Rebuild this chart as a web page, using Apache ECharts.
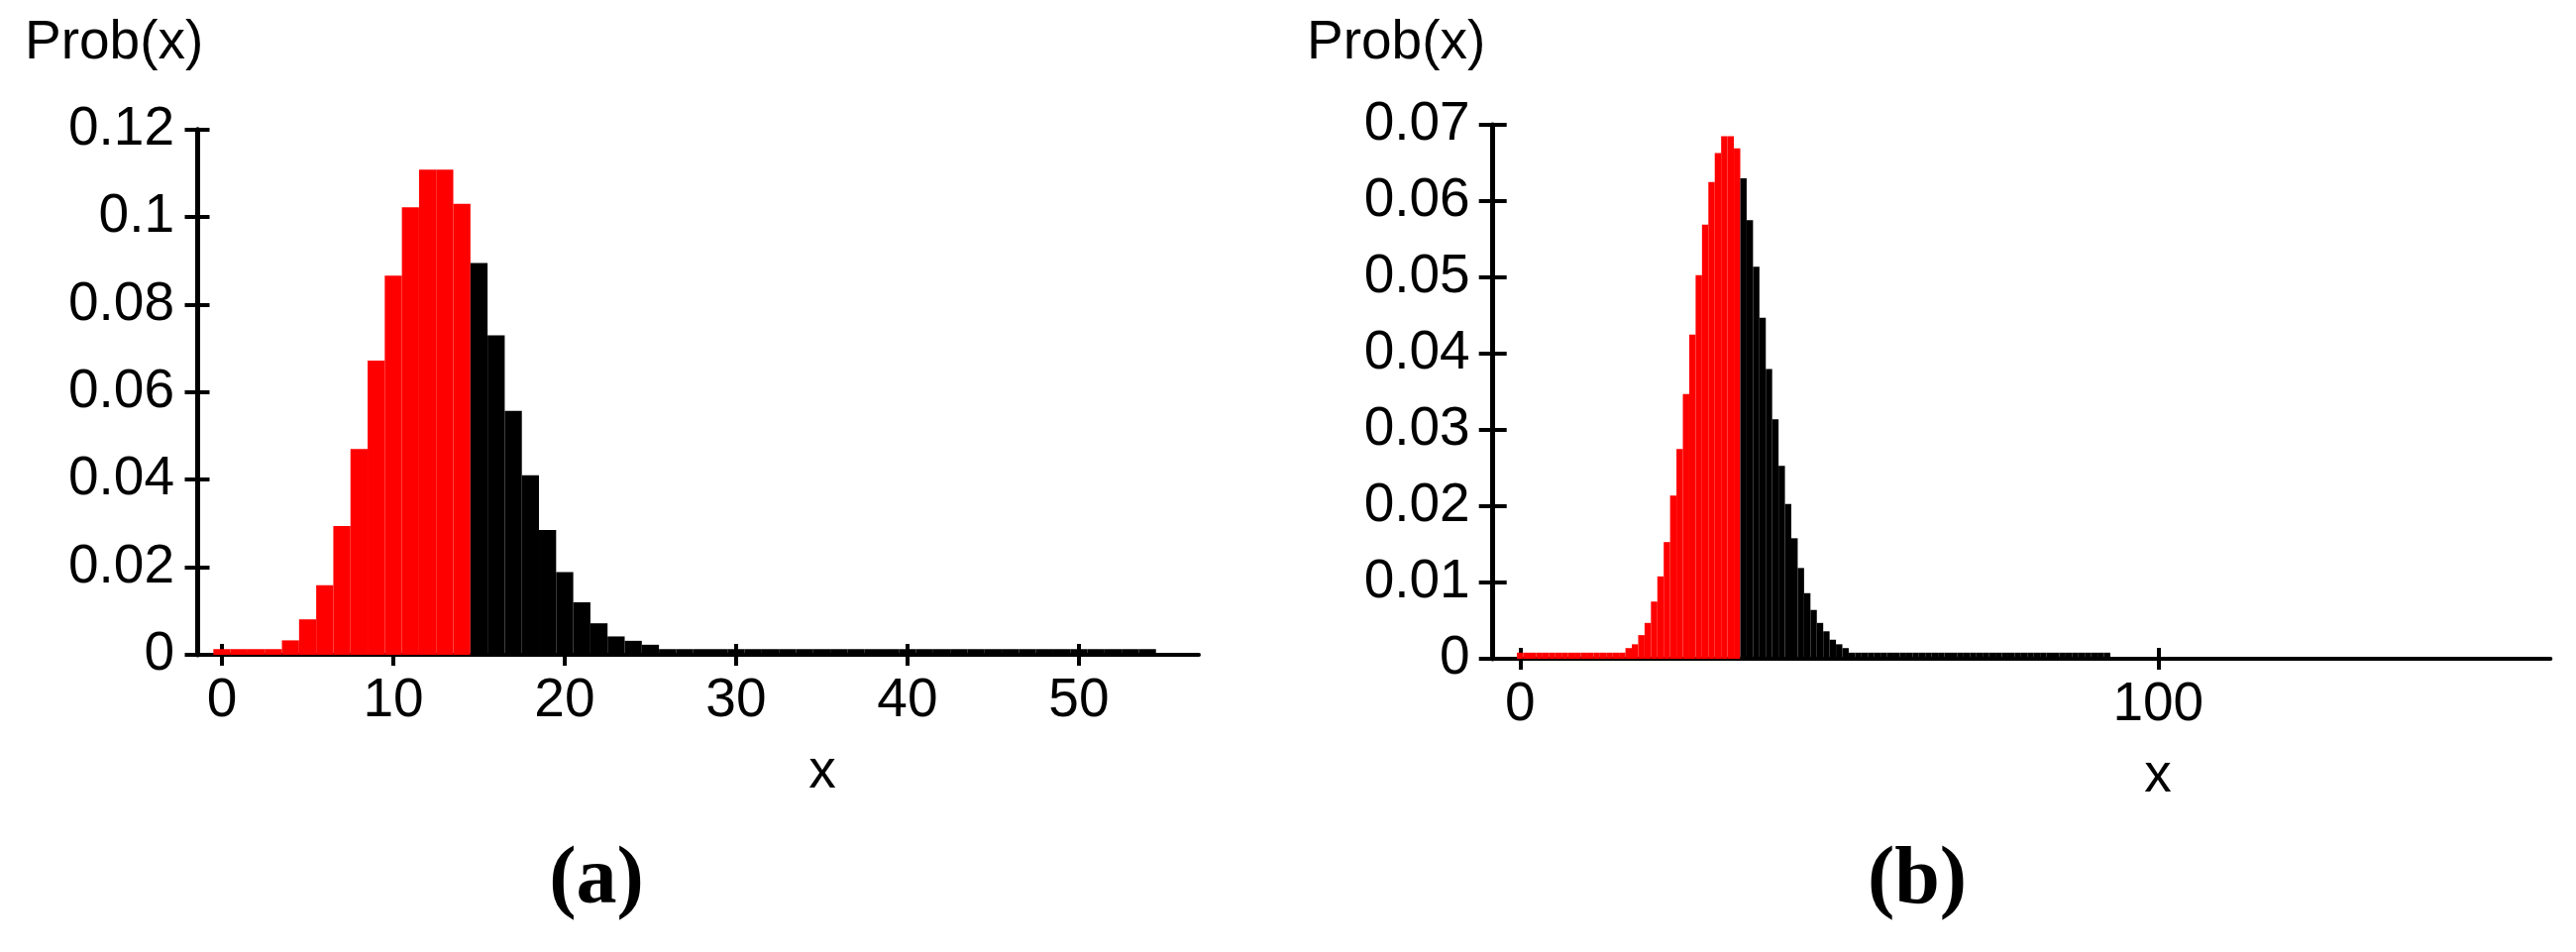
<!DOCTYPE html>
<html>
<head>
<meta charset="utf-8">
<script src="https://cdn.jsdelivr.net/npm/echarts@6/dist/echarts.min.js"></script>
<style>
  html, body { margin: 0; padding: 0; background: #fff; }
  #chart { width: 2600px; height: 961px; }
</style>
</head>
<body>
<div id="chart"></div>
<script>
// panel (a): Prob(x) for x = 0..54, red up to splitA, black after
const probA = [
  0.0013, 0.0013, 0.0013, 0.0013, 0.0033, 0.0081, 0.0159, 0.0294, 0.047, 0.0672,
  0.0866, 0.1022, 0.1108, 0.1108, 0.103,
  0.0895, 0.073, 0.0557, 0.041, 0.0285, 0.0189, 0.012, 0.0072, 0.0042, 0.0032,
  0.0023, 0.0013, 0.0013, 0.0013, 0.0013, 0.0013, 0.0013, 0.0013, 0.0013, 0.0013,
  0.0013, 0.0013, 0.0013, 0.0013, 0.0013, 0.0013, 0.0013, 0.0013, 0.0013, 0.0013,
  0.0013, 0.0013, 0.0013, 0.0013, 0.0013, 0.0013, 0.0013, 0.0013, 0.0013, 0.0013
];
const splitA = 15;
const xTicksA = [0, 10, 20, 30, 40, 50];

// panel (b): Prob(x) for x = 0..92
const probB = [
  0.0008, 0.0008, 0.0008, 0.0008, 0.0008, 0.0008, 0.0008, 0.0008, 0.0008, 0.0008,
  0.0008, 0.0008, 0.0008, 0.0008, 0.0008, 0.0008, 0.0008, 0.0014, 0.0019, 0.0031,
  0.0047, 0.0075, 0.0108, 0.0153, 0.0214, 0.0275, 0.0347, 0.0425, 0.0503, 0.0569,
  0.0625, 0.0663, 0.0685, 0.0685, 0.0669,
  0.063, 0.0575, 0.0514, 0.0447, 0.038, 0.0314, 0.0253, 0.0203, 0.0158, 0.0119,
  0.0086, 0.0064, 0.0047, 0.0036, 0.0025, 0.0019, 0.0014, 0.0008, 0.0008, 0.0008,
  0.0008, 0.0008, 0.0008, 0.0008, 0.0008, 0.0008, 0.0008, 0.0008, 0.0008, 0.0008,
  0.0008, 0.0008, 0.0008, 0.0008, 0.0008, 0.0008, 0.0008, 0.0008, 0.0008, 0.0008,
  0.0008, 0.0008, 0.0008, 0.0008, 0.0008, 0.0008, 0.0008, 0.0008, 0.0008, 0.0008,
  0.0008, 0.0008, 0.0008, 0.0008, 0.0008, 0.0008, 0.0008, 0.0008
];
const splitB = 35;
const xTicksB = [0, 100];

const FONT = "'Liberation Sans', Arial, sans-serif";
const INK = "#000000";

const toPoints = (values, from, to) => values.slice(from, to).map((v, i) => [from + i, v]);

// one outward + one inward axis per side gives ticks that cross the axis line
const makeXAxes = (gridIndex, min, max, ticks, namePad) => ([
  {
    type: "value", gridIndex, min, max, position: "bottom",
    axisLine: { onZero: false, lineStyle: { color: INK, width: 4 } },
    axisTick: { customValues: ticks, length: 11, lineStyle: { color: INK, width: 4 } },
    axisLabel: { customValues: ticks, color: INK, fontSize: 55, fontFamily: FONT, margin: 19 },
    splitLine: { show: false },
    name: "x", nameLocation: "middle", nameGap: 119, nameMoveOverlap: false,
    nameTextStyle: { color: INK, fontSize: 55, fontFamily: FONT, verticalAlign: "middle", padding: [0, 0, 0, namePad] },
  },
  {
    type: "value", gridIndex, min, max, position: "bottom",
    axisLine: { show: false, onZero: false },
    axisTick: { customValues: ticks, inside: true, length: 11, lineStyle: { color: INK, width: 4 } },
    axisLabel: { show: false },
    splitLine: { show: false },
  },
]);

const makeYAxes = (gridIndex, max, interval, tickLen) => ([
  {
    type: "value", gridIndex, min: 0, max, interval, position: "left",
    axisLine: { show: true, onZero: false, lineStyle: { color: INK, width: 5 } },
    axisTick: { show: true, length: tickLen, lineStyle: { color: INK, width: 4 } },
    axisLabel: { color: INK, fontSize: 55, fontFamily: FONT, margin: 23 },
    splitLine: { show: false },
  },
  {
    type: "value", gridIndex, min: 0, max, interval, position: "left",
    axisLine: { show: false, onZero: false },
    axisTick: { show: true, inside: true, length: tickLen, lineStyle: { color: INK, width: 4 } },
    axisLabel: { show: false },
    splitLine: { show: false },
  },
]);

const barSeries = (name, color, data, xAxisIndex, yAxisIndex) => ({
  name, type: "bar", data, xAxisIndex, yAxisIndex,
  barWidth: "100%", barGap: "-100%",
  itemStyle: { color },
  silent: true,
});

const textEl = (text, x, y, font, align) => ({
  type: "text", x, y,
  style: {
    text, font, fill: INK,
    align, verticalAlign: "middle",
    textAlign: align, textVerticalAlign: "middle",
  },
});

const option = {
  animation: false,
  backgroundColor: "#ffffff",
  grid: [
    { left: 199, top: 130.7, width: 1011, height: 530.3, containLabel: false, outerBoundsMode: "none" },
    { left: 1506.7, top: 126, width: 1067.6, height: 539, containLabel: false, outerBoundsMode: "none" },
  ],
  xAxis: [
    ...makeXAxes(0, -1.445, 57, xTicksA, 251),
    ...makeXAxes(1, -4.29, 161.5, xTicksB, 275),
  ],
  yAxis: [
    ...makeYAxes(0, 0.12, 0.02, 12.5),
    ...makeYAxes(1, 0.07, 0.01, 14),
  ],
  series: [
    barSeries("a-red", "#ff0000", toPoints(probA, 0, splitA), 0, 0),
    barSeries("a-black", INK, toPoints(probA, splitA, probA.length), 0, 0),
    barSeries("b-red", "#ff0000", toPoints(probB, 0, splitB), 2, 2),
    barSeries("b-black", INK, toPoints(probB, splitB, probB.length), 2, 2),
  ],
  graphic: [
    textEl("Prob(x)", 25, 44, `55px ${FONT}`, "left"),
    textEl("Prob(x)", 1319, 44, `55px ${FONT}`, "left"),
    textEl("(a)", 602, 890, "bold 82px 'Liberation Serif', 'Times New Roman', serif", "center"),
    textEl("(b)", 1935, 890, "bold 82px 'Liberation Serif', 'Times New Roman', serif", "center"),
  ],
};

const chart = echarts.init(document.getElementById("chart"), null, { renderer: "canvas" });
chart.setOption(option);
</script>
</body>
</html>
